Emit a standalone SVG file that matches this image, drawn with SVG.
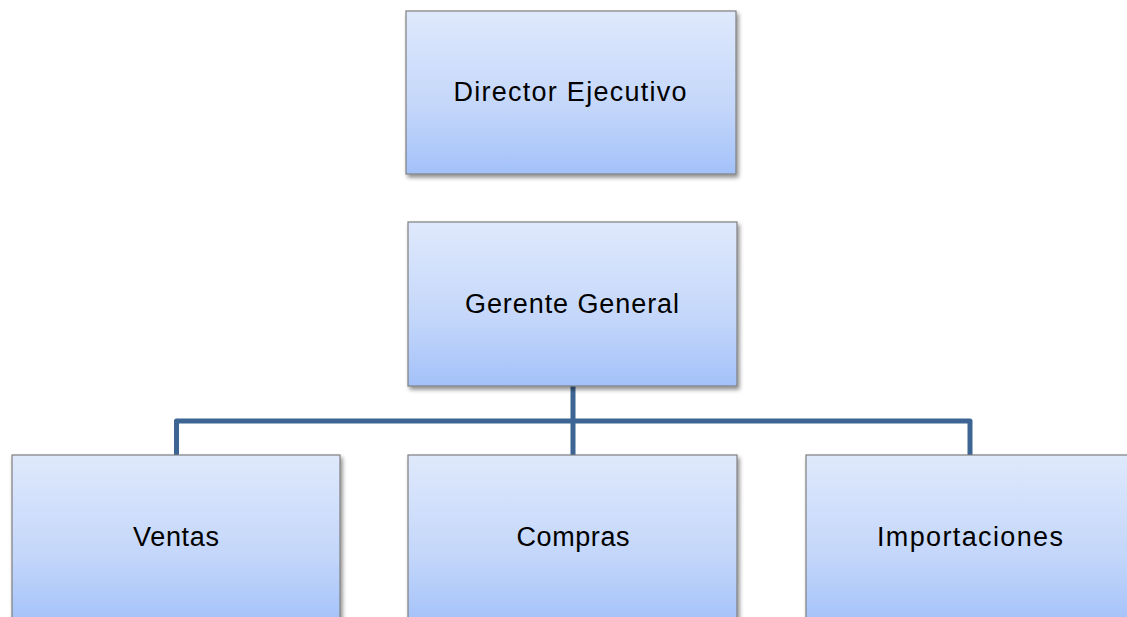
<svg xmlns="http://www.w3.org/2000/svg" width="1127" height="617" viewBox="0 0 1127 617">
<defs>
<linearGradient id="g" x1="0" y1="0" x2="0" y2="1">
<stop offset="0" stop-color="#dfe9fc"/>
<stop offset="0.6" stop-color="#c3d6fa"/>
<stop offset="1" stop-color="#a3c1f9"/>
</linearGradient>
<filter id="sh" x="-5%" y="-5%" width="112%" height="115%">
<feGaussianBlur in="SourceAlpha" stdDeviation="2"/>
<feOffset dx="2" dy="3"/>
<feComponentTransfer><feFuncA type="linear" slope="0.45"/></feComponentTransfer>
<feMerge><feMergeNode/><feMergeNode in="SourceGraphic"/></feMerge>
</filter>
</defs>
<style>
.box{fill:url(#g);stroke:#7f7f7f;stroke-width:1.2;filter:url(#sh)}
.lbl{font-family:"Liberation Sans",Arial,sans-serif;font-size:27px;fill:#000;text-anchor:middle}
.con{fill:none;stroke:#3d6594;stroke-width:5;stroke-linejoin:round}
</style>
<rect width="1127" height="617" fill="#fff"/>
<g id="connectors">
<path class="con" d="M573,386 V421 M176.5,455 V421 H970 V455 M573,421 V455"/>
</g>
<g id="n-director">
<rect class="box" x="406" y="11" width="330" height="163"/>
<text class="lbl" x="570" y="101" textLength="233" lengthAdjust="spacing">Director Ejecutivo</text>
</g>
<g id="n-gerente">
<rect class="box" x="408" y="222" width="329" height="164"/>
<text class="lbl" x="572" y="313" textLength="214" lengthAdjust="spacing">Gerente General</text>
</g>
<g id="n-ventas">
<rect class="box" x="12" y="455" width="328" height="170"/>
<text class="lbl" x="176" y="546" textLength="86" lengthAdjust="spacing">Ventas</text>
</g>
<g id="n-compras">
<rect class="box" x="408" y="455" width="329" height="170"/>
<text class="lbl" x="573" y="546" textLength="113" lengthAdjust="spacing">Compras</text>
</g>
<g id="n-importaciones">
<rect class="box" x="806" y="455" width="330" height="170"/>
<text class="lbl" x="970" y="546" textLength="186" lengthAdjust="spacing">Importaciones</text>
</g>
</svg>
